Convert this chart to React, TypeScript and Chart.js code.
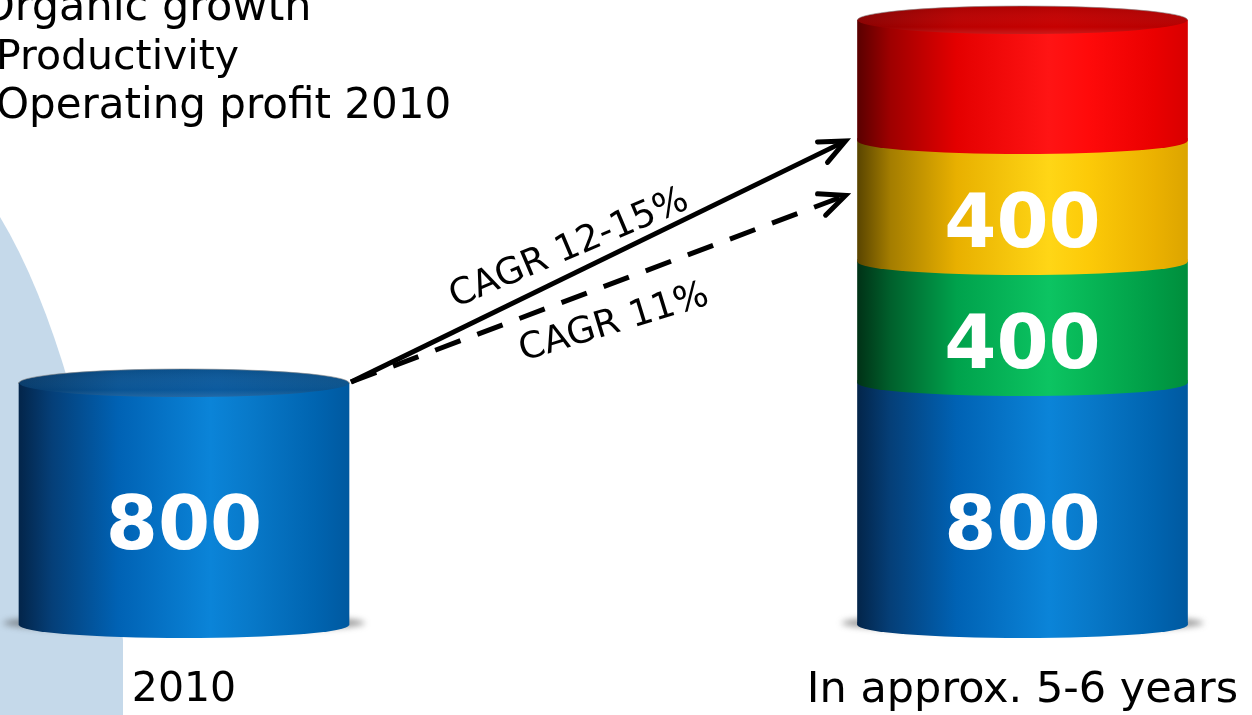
import React, { useEffect, useRef } from "react";
import { Chart, registerables } from "chart.js";

Chart.register(...registerables);

// ---------- data ----------
const categories = ["2010", "In approx. 5-6 years"];
const operatingProfit2010 = [800, 800];
const productivity = [0, 400];
const organicGrowth = [0, 400];
const topSegment = [0, 400]; // red segment, its legend entry is cut off
const seriesLabels = ["Operating profit 2010", "Productivity", "Organic growth", ""];
const seriesValues = [operatingProfit2010, productivity, organicGrowth, topSegment];
const valueLabelShown = [true, true, true, false];
const cagrLabels = ["CAGR 12-15%", "CAGR 11%"];
const cagrTargets = [1600, 1420];
const yMax = 2000;

// ---------- styles ----------
const FONT = "'DejaVu Sans', Verdana, sans-serif";
const BAR_WIDTH = 330;
const RY = 13;
const RY_TOP = 14;
const stopPos = [0, 0.1, 0.3, 0.58, 0.7, 0.9, 1];
const palettes = [
  {
    side: ["#03254a", "#053f78", "#0062b4", "#0b84d8", "#0879c9", "#0064b0", "#0059a0"],
    top: ["#063a6a", "#0a5494", "#0b5a9e", "#0a528c"],
  },
  {
    side: ["#003216", "#00602c", "#00a24c", "#0cc462", "#07b656", "#009c46", "#008e3c"],
    top: ["#00401c", "#008a3c", "#00a048", "#008a3c"],
  },
  {
    side: ["#5a4500", "#a47d00", "#e8b000", "#ffd616", "#fcca08", "#ebb100", "#dca500"],
    top: ["#7a5e00", "#d09c00", "#e0ac00", "#c99700"],
  },
  {
    side: ["#5a0000", "#9e0000", "#e40000", "#ff1414", "#ff0a0a", "#ea0000", "#d80000"],
    top: ["#8a0000", "#bb0000", "#c60000", "#b40000"],
  },
];
const legendX = [-19, -4, -4];
const legendSizes = [43, 41, 42];
const legendBaselines = [20, 69, 118];
const tickSizes = [41, 43];

function sideGradient(ctx2d: CanvasRenderingContext2D, cx: number, half: number, stops: string[]) {
  const g = ctx2d.createLinearGradient(cx - half, 0, cx + half, 0);
  stops.forEach((c, i) => g.addColorStop(stopPos[i], c));
  return g;
}

function topGradient(ctx2d: CanvasRenderingContext2D, cx: number, half: number, stops: string[]) {
  const g = ctx2d.createLinearGradient(cx - half, 0, cx + half, 0);
  g.addColorStop(0, stops[0]);
  g.addColorStop(0.3, stops[1]);
  g.addColorStop(0.6, stops[2]);
  g.addColorStop(1, stops[3]);
  return g;
}

const cylinderPlugin = {
  id: "cylinders",
  beforeDraw(chart: any) {
    const { ctx } = chart;
    ctx.save();
    ctx.fillStyle = "#ffffff";
    ctx.fillRect(0, 0, chart.width, chart.height);
    // decorative light blue backdrop on the left
    ctx.fillStyle = "#c5d9ea";
    ctx.beginPath();
    ctx.moveTo(0, 217);
    ctx.quadraticCurveTo(79, 348, 123, 640);
    ctx.lineTo(123, chart.height);
    ctx.lineTo(0, chart.height);
    ctx.closePath();
    ctx.fill();
    ctx.restore();
  },
  beforeDatasetsDraw(chart: any) {
    const { ctx } = chart;
    const xs = chart.scales.x;
    const ys = chart.scales.y;
    const base = ys.getPixelForValue(0);
    ctx.save();
    ctx.filter = "blur(3px)";
    ctx.fillStyle = "rgba(70,70,70,0.55)";
    for (let i = 0; i < categories.length; i++) {
      const cx = xs.getPixelForValue(i);
      ctx.beginPath();
      ctx.ellipse(cx, base - 2, BAR_WIDTH / 2 + 16, 9, 0, 0, Math.PI * 2);
      ctx.fill();
    }
    ctx.restore();
  },
  afterDatasetsDraw(chart: any) {
    const { ctx } = chart;
    const ys = chart.scales.y;
    const nDs = chart.data.datasets.length;
    ctx.save();
    const topEls: any[] = [];
    for (let i = 0; i < categories.length; i++) {
      let topDs = -1;
      for (let d = 0; d < nDs; d++) {
        if (seriesValues[d][i] > 0) topDs = d;
      }
      for (let d = 0; d < nDs; d++) {
        if (!(seriesValues[d][i] > 0)) continue;
        const el = chart.getDatasetMeta(d).data[i];
        const half = el.width / 2;
        // lower arc at the base of each segment
        ctx.fillStyle = sideGradient(ctx, el.x, half, palettes[d].side);
        ctx.beginPath();
        ctx.ellipse(el.x, el.base, half, RY, 0, 0, Math.PI);
        ctx.lineTo(el.x - half, el.base - 3);
        ctx.lineTo(el.x + half, el.base - 3);
        ctx.closePath();
        ctx.fill();
      }
      if (topDs >= 0) {
        const el = chart.getDatasetMeta(topDs).data[i];
        const half = el.width / 2;
        topEls[i] = el;
        ctx.fillStyle = topGradient(ctx, el.x, half, palettes[topDs].top);
        ctx.beginPath();
        ctx.ellipse(el.x, el.y, half, RY_TOP, 0, 0, Math.PI * 2);
        ctx.fill();
        const vg = ctx.createLinearGradient(0, el.y - RY_TOP, 0, el.y + RY_TOP);
        vg.addColorStop(0, "rgba(0,0,0,0.10)");
        vg.addColorStop(0.75, "rgba(255,255,255,0.0)");
        vg.addColorStop(1, "rgba(255,255,255,0.10)");
        ctx.fillStyle = vg;
        ctx.fill();
        ctx.strokeStyle = "rgba(140,140,140,0.6)";
        ctx.lineWidth = 1;
        ctx.beginPath();
        ctx.ellipse(el.x, el.y, half, RY_TOP, 0, Math.PI, Math.PI * 2);
        ctx.stroke();
      }
    }

    // value labels
    ctx.fillStyle = "#ffffff";
    ctx.textAlign = "center";
    ctx.textBaseline = "alphabetic";
    const vSize = 75;
    ctx.font = `bold ${vSize}px ${FONT}`;
    for (let d = 0; d < nDs; d++) {
      if (!valueLabelShown[d]) continue;
      const meta = chart.getDatasetMeta(d);
      for (let i = 0; i < categories.length; i++) {
        const v = seriesValues[d][i];
        if (!(v > 0)) continue;
        const el = meta.data[i];
        const cy = (el.y + el.base) / 2 + 18;
        ctx.fillText(String(v), el.x, cy + 0.3645 * vSize);
      }
    }

    // CAGR arrows
    const startEl = topEls[0];
    const endEl = chart.getDatasetMeta(0).data[1];
    const sx = startEl.x + startEl.width / 2 + 2;
    const sy = startEl.y - 1;
    const ex = endEl.x - endEl.width / 2 - 12;
    const textT = [0.4625, 0.505];
    const textOff = [-24, 38];
    const textAngleDeg = [-23, -17];
    ctx.strokeStyle = "#000000";
    ctx.fillStyle = "#000000";
    for (let k = 0; k < cagrTargets.length; k++) {
      const ey = ys.getPixelForValue(cagrTargets[k]);
      const a = Math.atan2(ey - sy, ex - sx);
      ctx.lineWidth = 5;
      ctx.lineCap = "butt";
      ctx.setLineDash(k === 1 ? [27, 18] : []);
      ctx.beginPath();
      ctx.moveTo(sx, sy);
      ctx.lineTo(ex - Math.cos(a) * 2, ey - Math.sin(a) * 2);
      ctx.stroke();
      ctx.setLineDash([]);
      ctx.lineCap = "round";
      ctx.lineJoin = "miter";
      const L = 28;
      const spread = 0.42;
      ctx.beginPath();
      ctx.moveTo(ex - L * Math.cos(a - spread), ey - L * Math.sin(a - spread));
      ctx.lineTo(ex, ey);
      ctx.lineTo(ex - L * Math.cos(a + spread), ey - L * Math.sin(a + spread));
      ctx.stroke();

      // label
      const t = textT[k];
      const px = sx + (ex - sx) * t;
      const py = sy + (ey - sy) * t;
      const nx = -Math.sin(a);
      const ny = Math.cos(a);
      ctx.save();
      ctx.translate(px + nx * textOff[k], py + ny * textOff[k]);
      ctx.rotate((textAngleDeg[k] * Math.PI) / 180);
      ctx.font = `36.5px ${FONT}`;
      ctx.textAlign = "center";
      ctx.textBaseline = "middle";
      ctx.fillText(cagrLabels[k], 0, 0);
      ctx.restore();
    }
    ctx.restore();
  },
  afterDraw(chart: any) {
    const { ctx } = chart;
    ctx.save();
    ctx.fillStyle = "#000000";
    ctx.textAlign = "left";
    ctx.textBaseline = "alphabetic";
    const labels = seriesLabels.filter((s) => s !== "").slice().reverse();
    labels.forEach((lab, j) => {
      ctx.font = `${legendSizes[j]}px ${FONT}`;
      ctx.fillText(lab, legendX[j], legendBaselines[j]);
    });
    ctx.restore();
  },
};

export default function App() {
  const ref = useRef<HTMLCanvasElement>(null);
  useEffect(() => {
    document.body.style.margin = "0";
    const canvas = ref.current!;
    const datasets = seriesValues.map((vals, d) => ({
      label: seriesLabels[d],
      data: vals,
      backgroundColor: (c: any) => {
        const chart = c.chart;
        const xs = chart.scales && chart.scales.x;
        if (!xs || c.dataIndex === undefined) return palettes[d].side[3];
        const cx = xs.getPixelForValue(c.dataIndex);
        if (!Number.isFinite(cx)) return palettes[d].side[3];
        return sideGradient(chart.ctx, cx, BAR_WIDTH / 2, palettes[d].side);
      },
      borderWidth: 0,
      barThickness: BAR_WIDTH,
      clip: false as any,
      stack: "total",
    }));
    const chart = new Chart(canvas, {
      type: "bar",
      data: { labels: categories, datasets },
      options: {
        responsive: false,
        animation: false,
        devicePixelRatio: 1,
        events: [],
        layout: { padding: { left: 184, right: 229.5, top: 20, bottom: -41.6 } },
        plugins: { legend: { display: false }, tooltip: { enabled: false } },
        scales: {
          x: {
            stacked: true,
            offset: false,
            grid: { display: false, drawTicks: false },
            border: { display: false },
            ticks: {
              color: "#000000",
              font: (c: any) => ({
                family: FONT,
                size: tickSizes[c.index] ?? 41,
                lineHeight: "127.6px",
              }),
              padding: 2,
              maxRotation: 0,
              minRotation: 0,
              autoSkip: false,
            },
          },
          y: { stacked: true, display: false, min: 0, max: yMax },
        },
      } as any,
      plugins: [cylinderPlugin as any],
    });
    return () => chart.destroy();
  }, []);
  return (
    <div style={{ width: 1252, height: 715, overflow: "hidden" }}>
      <canvas ref={ref} width={1252} height={715} style={{ display: "block" }} />
    </div>
  );
}
